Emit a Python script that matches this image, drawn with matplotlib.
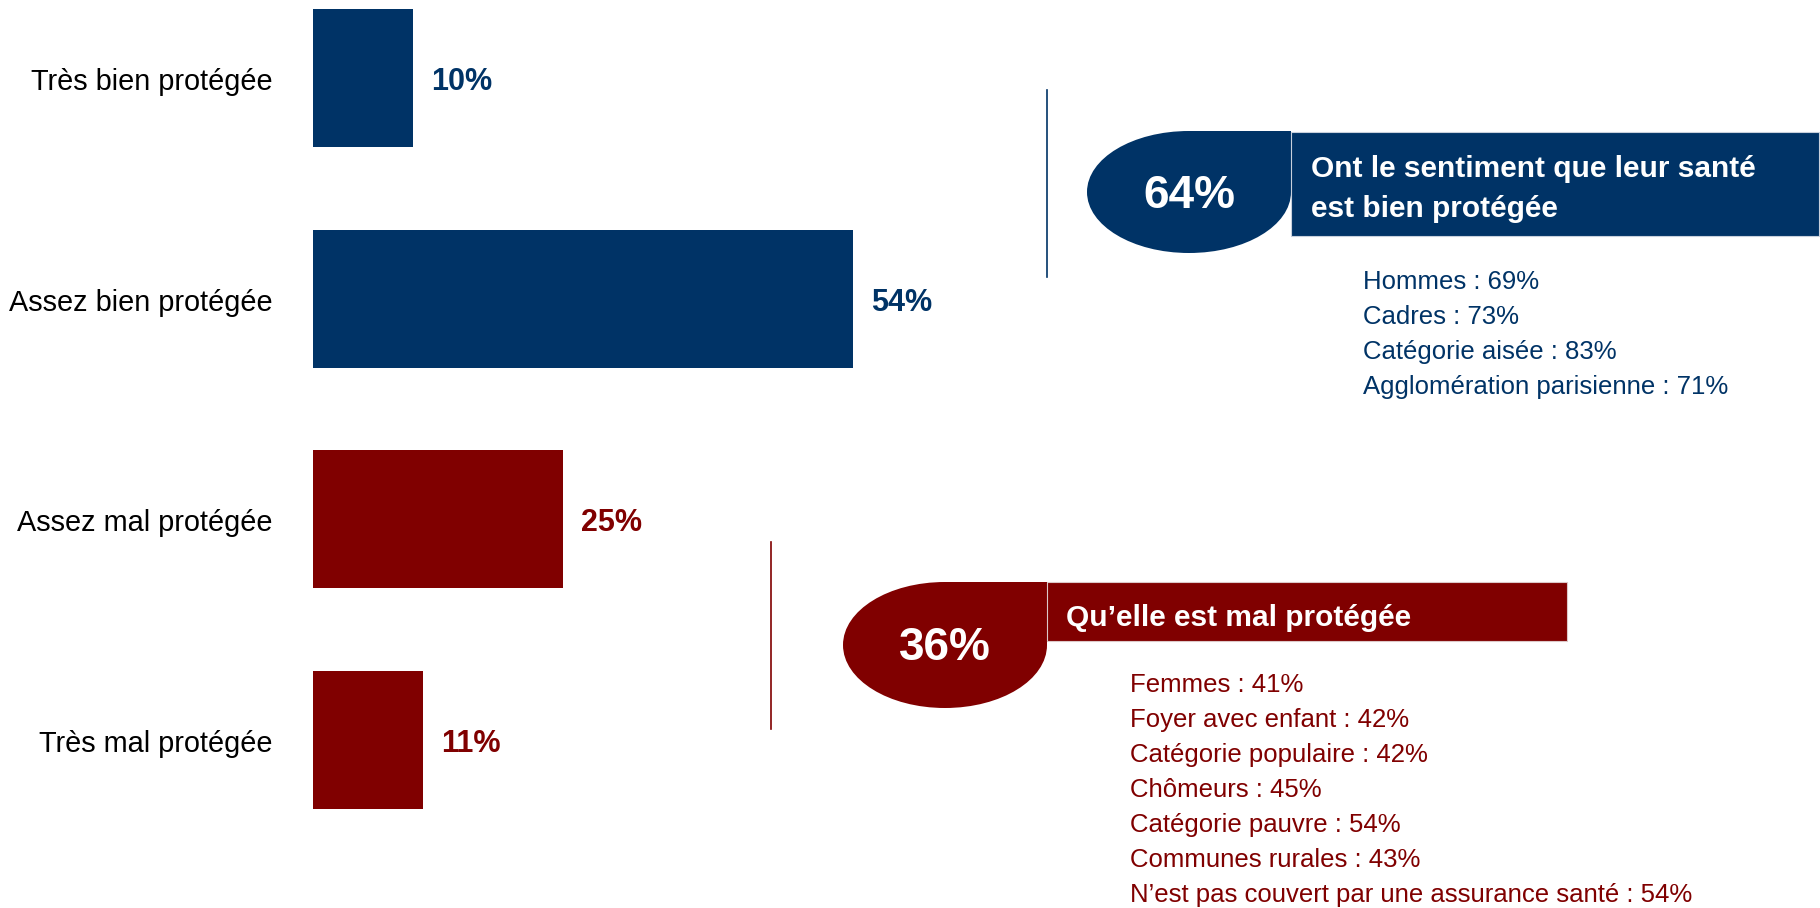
import matplotlib.pyplot as plt
from matplotlib.path import Path
from matplotlib.patches import PathPatch, Rectangle

plt.rcParams['font.family'] = ['Liberation Sans', 'DejaVu Sans']

# Data
categories = ["Très bien protégée", "Assez bien protégée",
              "Assez mal protégée", "Très mal protégée"]
shares = [10, 54, 25, 11]
is_good = [True, True, False, False]

good_title = ["Ont le sentiment que leur santé", "est bien protégée"]
good_details = ["Hommes : 69%", "Cadres : 73%", "Catégorie aisée : 83%",
                "Agglomération parisienne : 71%"]
bad_title = ["Qu\u2019elle est mal protégée"]
bad_details = ["Femmes : 41%", "Foyer avec enfant : 42%",
               "Catégorie populaire : 42%", "Chômeurs : 45%",
               "Catégorie pauvre : 54%", "Communes rurales : 43%",
               "N\u2019est pas couvert par une assurance santé : 54%"]

good_total = sum(s for s, g in zip(shares, is_good) if g)
bad_total = sum(s for s, g in zip(shares, is_good) if not g)

NAVY = "#003366"
RED = "#800000"

W, H = 1820, 908
fig = plt.figure(figsize=(W / 100, H / 100), dpi=100)

# Bar chart: 10 px per percent, starting at x=313
ax = fig.add_axes([313 / W, 0, 1 - 313 / W, 1])
step = 220.5
first = 78
ax.set_xlim(0, (W - 313) / 10)
ax.set_ylim((H - first) / step, -first / step)
colors = [NAVY if g else RED for g in is_good]
ypos = list(range(len(categories)))
bars = ax.barh(ypos, shares, height=138 / step, color=colors)
ax.set_yticks([])
ax.set_xticks([])
for s in ax.spines.values():
    s.set_visible(False)
for y, cat in zip(ypos, categories):
    ax.annotate(cat, (0, y), xytext=(-29, -3), textcoords="offset points",
                va="center", ha="right", fontsize=20.8, color="black")
for b, v, c in zip(bars, shares, colors):
    ax.annotate(f"{v}%", (b.get_width(), b.get_y() + b.get_height() / 2),
                xytext=(13, -3), textcoords="offset points",
                va="center", ha="left", fontsize=22, fontweight="bold", color=c)

# Overlay in pixel coordinates for the callouts
ov = fig.add_axes([0, 0, 1, 1])
ov.set_xlim(0, W)
ov.set_ylim(H, 0)
ov.axis("off")
ov.patch.set_alpha(0)

dy = 4  # visual centring of text


def teardrop(cx, cy, rx, ry, color):
    k = 0.5523
    verts = [(cx, cy - ry), (cx + rx, cy - ry), (cx + rx, cy),
             (cx + rx, cy + k * ry), (cx + k * rx, cy + ry), (cx, cy + ry),
             (cx - k * rx, cy + ry), (cx - rx, cy + k * ry), (cx - rx, cy),
             (cx - rx, cy - k * ry), (cx - k * rx, cy - ry), (cx, cy - ry),
             (cx, cy - ry)]
    codes = [Path.MOVETO, Path.LINETO, Path.LINETO,
             Path.CURVE4, Path.CURVE4, Path.CURVE4,
             Path.CURVE4, Path.CURVE4, Path.CURVE4,
             Path.CURVE4, Path.CURVE4, Path.CURVE4, Path.CLOSEPOLY]
    ov.add_patch(PathPatch(Path(verts, codes), facecolor=color, edgecolor="none"))


# Good callout
ov.plot([1047, 1047], [90, 277], color=NAVY, lw=1.2)
teardrop(1189, 192, 102, 61, NAVY)
ov.add_patch(Rectangle((1291, 132), 528, 104, facecolor=NAVY,
                       edgecolor="#c8d0dc", lw=0.8))
ov.text(1189, 192 + dy, f"{good_total}%", color="white", fontsize=33,
        fontweight="bold", ha="center", va="center")
for i, line in enumerate(good_title):
    ov.text(1311, 165 + i * 40 + dy, line, color="white", fontsize=21.5,
            fontweight="bold", ha="left", va="center")
for i, line in enumerate(good_details):
    ov.text(1363, 278 + i * 35 + dy, line, color=NAVY, fontsize=18.5,
            ha="left", va="center")

# Bad callout
ov.plot([771, 771], [542, 729], color=RED, lw=1.2)
teardrop(945, 645, 102, 63, RED)
ov.add_patch(Rectangle((1047, 582), 520, 59, facecolor=RED,
                       edgecolor="#dcc8c8", lw=0.8))
ov.text(945, 644 + dy, f"{bad_total}%", color="white", fontsize=33,
        fontweight="bold", ha="center", va="center")
for i, line in enumerate(bad_title):
    ov.text(1066, 614 + dy, line, color="white", fontsize=21.5,
            fontweight="bold", ha="left", va="center")
for i, line in enumerate(bad_details):
    ov.text(1130, 683 + i * 35 + 2, line, color=RED, fontsize=18.5,
            ha="left", va="center")

fig.savefig("out.png", dpi=100)
